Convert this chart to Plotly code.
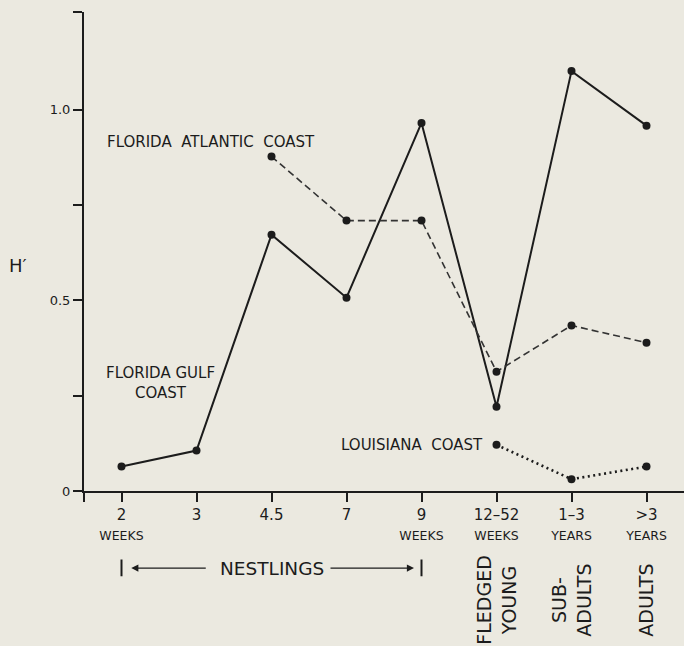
import plotly.graph_objects as go

# ---- data ----
categories = ["2", "3", "4.5", "7", "9", "12–52", "1–3", ">3"]
units = ["WEEKS", "", "", "", "WEEKS", "WEEKS", "YEARS", "YEARS"]
gulf = [0.064, 0.106, 0.672, 0.507, 0.965, 0.221, 1.101, 0.958]
atlantic = [None, None, 0.877, 0.709, 0.709, 0.313, 0.434, 0.389]
louisiana = [None, None, None, None, None, 0.121, 0.031, 0.064]
y_tickvals = [0, 0.25, 0.5, 0.75, 1.0, 1.255]
y_ticktext = ["0", "", "0.5", "", "1.0", ""]
stage_labels = ["FLEDGED<br>YOUNG", "SUB-<br>ADULTS", "ADULTS"]
stage_index = [5, 6, 7]

BG = "#ebe9e0"
INK = "#1c1c1c"
FONT = "DejaVu Sans"

xs = list(range(len(categories)))

fig = go.Figure()
fig.add_trace(go.Scatter(x=xs, y=gulf, mode="lines+markers",
                         line=dict(color=INK, width=2),
                         marker=dict(color=INK, size=8), showlegend=False))
fig.add_trace(go.Scatter(x=xs, y=atlantic, mode="lines+markers",
                         line=dict(color="#333333", width=1.6, dash="7px,4px"),
                         marker=dict(color=INK, size=8), showlegend=False))
fig.add_trace(go.Scatter(x=xs, y=louisiana, mode="lines+markers",
                         line=dict(color=INK, width=2.6, dash="2px,3.5px"),
                         marker=dict(color=INK, size=8), showlegend=False))

ticktext = [""] + [
    c + ("<br><span style='font-size:12.5px'>" + u + "</span>" if u else "")
    for c, u in zip(categories, units)
]

LBL = 15
annotations = []
# series labels
annotations.append(dict(x=-0.22, y=0.915, xref="x", yref="y", text="FLORIDA  ATLANTIC  COAST",
                        showarrow=False, xanchor="left", yanchor="middle",
                        font=dict(family=FONT, size=LBL, color=INK)))
annotations.append(dict(x=0.52, y=0.282, xref="x", yref="y", text="FLORIDA GULF<br>COAST",
                        showarrow=False, xanchor="center", yanchor="middle",
                        font=dict(family=FONT, size=LBL, color=INK)))
annotations.append(dict(x=4.84, y=0.121, xref="x", yref="y", text="LOUISIANA  COAST",
                        showarrow=False, xanchor="right", yanchor="middle",
                        font=dict(family=FONT, size=LBL, color=INK)))
# H' label
annotations.append(dict(x=-0.11, y=0.47, xref="paper", yref="paper", text="H′",
                        showarrow=False, xanchor="center", yanchor="middle",
                        font=dict(family=FONT, size=18, color=INK)))
# NESTLINGS bracket
annotations.append(dict(x=2.0, y=-0.161, xref="x", yref="paper", text="NESTLINGS",
                        showarrow=False, xanchor="center", yanchor="middle",
                        font=dict(family=FONT, size=18.5, color=INK)))
annotations.append(dict(x=0.13, y=-0.161, xref="x", yref="paper", ax=76, ay=0,
                        text="", showarrow=True, arrowhead=2, arrowsize=1.1,
                        arrowwidth=1.3, arrowcolor=INK))
annotations.append(dict(x=3.9, y=-0.161, xref="x", yref="paper", ax=-85, ay=0,
                        text="", showarrow=True, arrowhead=2, arrowsize=1.1,
                        arrowwidth=1.3, arrowcolor=INK))
# vertical stage labels
for lab, xi in zip(stage_labels, stage_index):
    annotations.append(dict(x=xi, y=-0.228, xref="x", yref="paper", text=lab,
                            showarrow=False, textangle=-90, xanchor="center", yanchor="middle",
                            font=dict(family=FONT, size=19, color=INK)))

shapes = [dict(type="line", xref="x", yref="paper", x0=xi, x1=xi, y0=-0.143, y1=-0.178,
               line=dict(color=INK, width=2)) for xi in (0, 4)]

fig.update_layout(
    width=684, height=646,
    margin=dict(l=84, r=0, t=12, b=155),
    paper_bgcolor=BG, plot_bgcolor=BG,
    font=dict(family=FONT, color=INK),
    annotations=annotations, shapes=shapes,
    xaxis=dict(range=[-0.5, 7.5], tickvals=[-0.5] + xs, ticktext=ticktext,
               ticks="outside", ticklen=9, tickwidth=1.6, tickcolor=INK,
               showline=True, linewidth=2, linecolor=INK, showgrid=False,
               zeroline=False, tickfont=dict(family=FONT, size=15, color=INK)),
    yaxis=dict(range=[0, 1.256], tickvals=y_tickvals, ticktext=y_ticktext,
               ticks="outside", ticklen=9, tickwidth=1.6, tickcolor=INK,
               showline=True, linewidth=2, linecolor=INK, showgrid=False,
               zeroline=False, tickfont=dict(family=FONT, size=13, color=INK)),
)

fig.write_html("out.html", config={"displayModeBar": False},
               post_script="document.body.style.margin='0';document.body.style.overflow='hidden';"
                           "document.body.style.background='" + BG + "';")
